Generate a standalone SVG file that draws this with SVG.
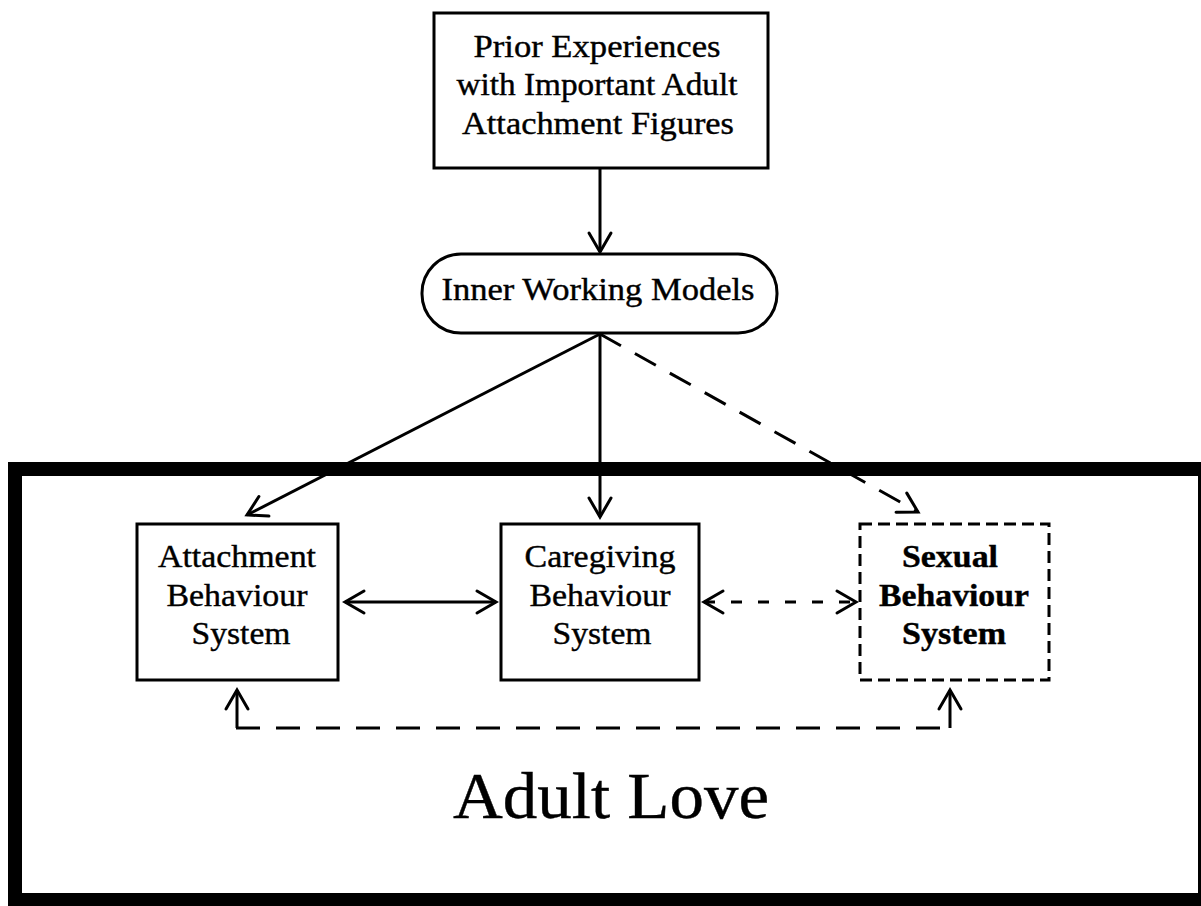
<svg xmlns="http://www.w3.org/2000/svg" width="1201" height="906" viewBox="0 0 1201 906">
<style>
  .t { font-family: "Liberation Serif", "Times New Roman", serif; font-size: 31px; fill: #000; stroke: #000; stroke-width: 0.4; text-anchor: middle; }
  .b { font-weight: bold; }
  .box { fill: #fff; stroke: #000; stroke-width: 3; }
  .dbox { fill: #fff; stroke: #000; stroke-width: 3; stroke-dasharray: 12 6; }
  .ln { fill: none; stroke: #000; stroke-width: 3; }
  .dl { fill: none; stroke: #000; stroke-width: 3; stroke-dasharray: 24 16; }
  .dm { fill: none; stroke: #000; stroke-width: 3; stroke-dasharray: 11 16; }
  .ah { fill: none; stroke: #000; stroke-width: 3; stroke-linecap: round; stroke-linejoin: miter; }
</style>
<defs>
  <marker id="arr" viewBox="0 0 24 24" refX="22" refY="12" markerWidth="24" markerHeight="24" markerUnits="userSpaceOnUse" orient="auto-start-reverse" overflow="visible">
    <path class="ah" d="M3,1 L22,12 L3,23"/>
  </marker>
</defs>
<rect id="frame" x="15" y="469" width="1190" height="431" fill="none" stroke="#000" stroke-width="14"/>
<g id="prior">
  <rect class="box" x="434" y="13" width="334" height="155"/>
  <text class="t" x="597" y="57" textLength="247" lengthAdjust="spacingAndGlyphs">Prior Experiences</text>
  <text class="t" x="597" y="95" textLength="281" lengthAdjust="spacingAndGlyphs">with Important Adult</text>
  <text class="t" x="598" y="134" textLength="272" lengthAdjust="spacingAndGlyphs">Attachment Figures</text>
</g>
<g id="iwm">
  <rect class="box" x="422" y="254" width="355" height="79" rx="39" ry="39"/>
  <text class="t" x="598" y="300" style="font-size:32px" textLength="313" lengthAdjust="spacingAndGlyphs">Inner Working Models</text>
</g>
<g id="attachment">
  <rect class="box" x="137" y="524" width="201" height="156"/>
  <text class="t" x="237" y="567" textLength="158" lengthAdjust="spacingAndGlyphs">Attachment</text>
  <text class="t" x="237" y="606" textLength="141" lengthAdjust="spacingAndGlyphs">Behaviour</text>
  <text class="t" x="241" y="644" textLength="99" lengthAdjust="spacingAndGlyphs">System</text>
</g>
<g id="caregiving">
  <rect class="box" x="501" y="524" width="198" height="156"/>
  <text class="t" x="600" y="567" textLength="151" lengthAdjust="spacingAndGlyphs">Caregiving</text>
  <text class="t" x="600" y="606" textLength="141" lengthAdjust="spacingAndGlyphs">Behaviour</text>
  <text class="t" x="602" y="644" textLength="99" lengthAdjust="spacingAndGlyphs">System</text>
</g>
<g id="sexual">
  <rect class="dbox" x="860" y="524" width="189" height="156"/>
  <text class="t b" x="950" y="567" textLength="96" lengthAdjust="spacingAndGlyphs">Sexual</text>
  <text class="t b" x="954" y="606" textLength="150" lengthAdjust="spacingAndGlyphs">Behaviour</text>
  <text class="t b" x="954" y="644" textLength="104" lengthAdjust="spacingAndGlyphs">System</text>
</g>
<g id="adult-love">
  <text class="t" x="611" y="818" style="font-size:66px" textLength="316" lengthAdjust="spacingAndGlyphs">Adult Love</text>
</g>
<g id="connectors">
  <line class="ln" x1="600" y1="168" x2="600" y2="252" marker-end="url(#arr)"/>
  <line class="ln" x1="600" y1="334" x2="247" y2="515" marker-end="url(#arr)"/>
  <line class="ln" x1="600" y1="334" x2="600" y2="517" marker-end="url(#arr)"/>
  <line class="dl" x1="600" y1="334" x2="918" y2="512" marker-end="url(#arr)"/>
  <line class="ln" x1="345" y1="602" x2="496" y2="602" marker-start="url(#arr)" marker-end="url(#arr)"/>
  <line class="dm" x1="704" y1="602" x2="856" y2="602" marker-start="url(#arr)" marker-end="url(#arr)"/>
  <path class="ln" d="M237,728 V690" marker-end="url(#arr)"/>
  <path class="ln" d="M950,728 V690" marker-end="url(#arr)"/>
  <line class="dl" x1="236" y1="728" x2="951" y2="728"/>
</g>
</svg>
